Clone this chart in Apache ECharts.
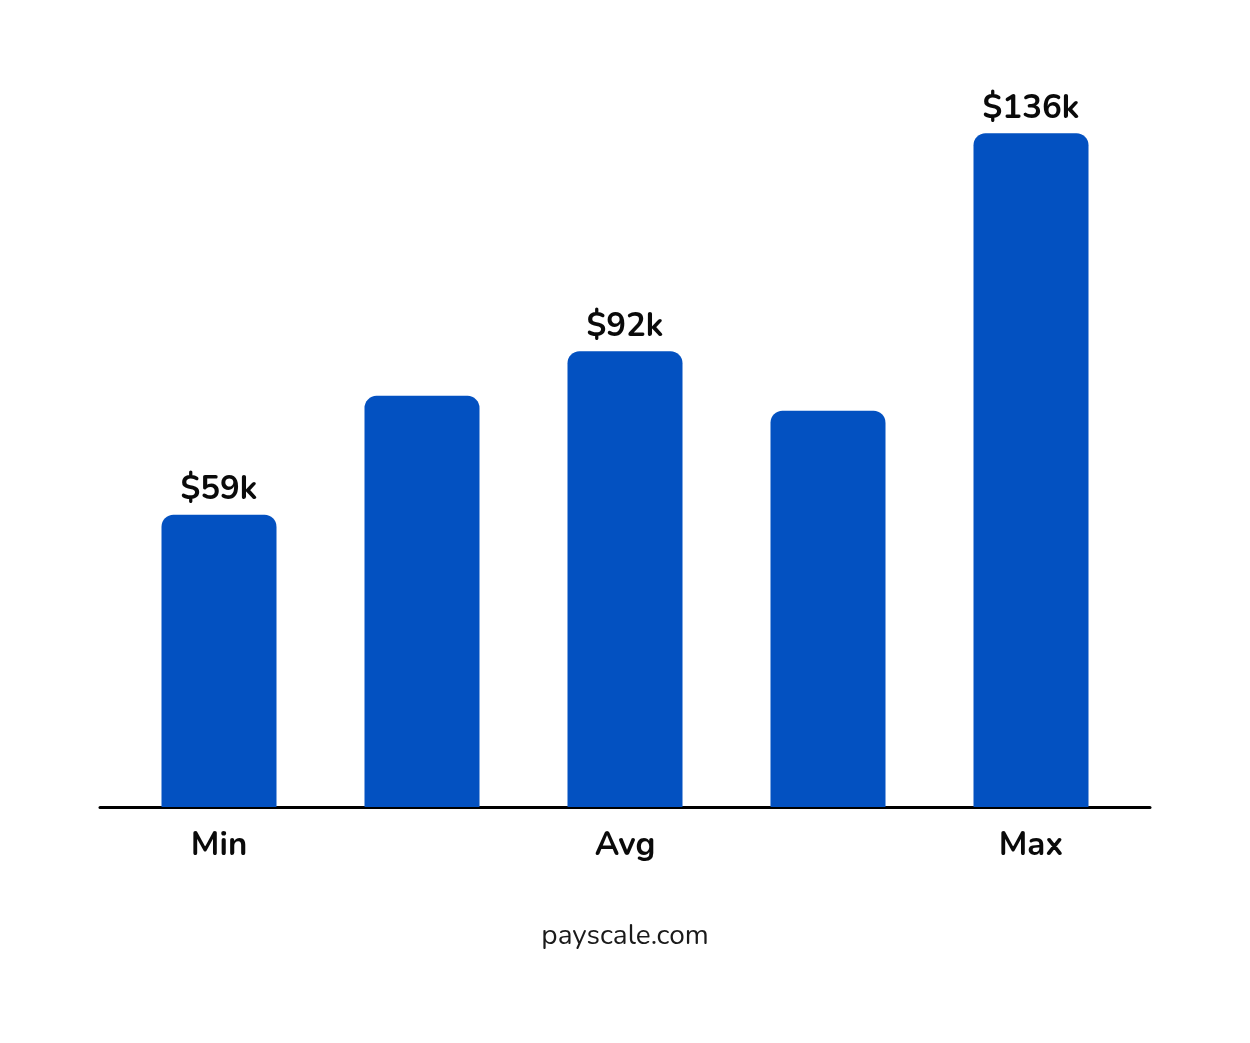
<!DOCTYPE html>
<html>
<head>
	<meta charset="utf-8">
	<title>Salary range</title>
	<script src="https://cdn.jsdelivr.net/npm/echarts@6/dist/echarts.min.js"></script>
	<style>
		html, body { margin: 0; padding: 0; background: #fff; }
		#chart { width: 1250px; height: 1043px; }
	</style>
</head>
<body>
<div id="chart"></div>
<script>
	// values in $k
	var categories = ['Min', '', 'Avg', '', 'Max'];
	var salaries = [59, 83, 92, 80, 136];
	var barLabels = ['$59k', '', '$92k', '', '$136k'];

	var font = 'Nunito, Lato, "Noto Sans", sans-serif';
	var chart = echarts.init(document.getElementById('chart'));

	chart.setOption({
		backgroundColor: '#ffffff',
		animation: false,
		title: {
			text: 'payscale.com',
			left: 'center',
			top: 918,
			textStyle: { fontFamily: font, fontSize: 28, fontWeight: 'normal', color: '#1a1a1a' }
		},
		grid: [
			{ left: 117.5, right: 117.5, top: 64, bottom: 236 },
			// wider grid only used to draw the baseline past the outer bars
			{ left: 100, right: 100, top: 64, bottom: 236 }
		],
		xAxis: [
			{
				type: 'category',
				gridIndex: 0,
				data: categories,
				axisLine: { show: false },
				axisTick: { show: false },
				axisLabel: {
					margin: 24,
					interval: 0,
					fontFamily: font,
					fontSize: 33,
					fontWeight: 'bold',
					color: '#0a0a0a'
				}
			},
			{
				type: 'value',
				gridIndex: 1,
				axisLine: { show: true, onZero: false, lineStyle: { color: '#000000', width: 3 } },
				axisTick: { show: false },
				axisLabel: { show: false },
				splitLine: { show: false }
			}
		],
		yAxis: [
			{ type: 'value', gridIndex: 0, min: 0, max: 150, show: false },
			{ type: 'value', gridIndex: 1, show: false }
		],
		series: [{
			type: 'bar',
			xAxisIndex: 0,
			yAxisIndex: 0,
			data: salaries,
			barWidth: 115,
			itemStyle: { color: '#0351C1', borderRadius: [12, 12, 0, 0] },
			label: {
				show: true,
				position: 'top',
				distance: 7,
				fontFamily: font,
				fontSize: 33,
				fontWeight: 'bold',
				color: '#0a0a0a',
				formatter: function (p) { return barLabels[p.dataIndex]; }
			}
		}]
	});
</script>
</body>
</html>
